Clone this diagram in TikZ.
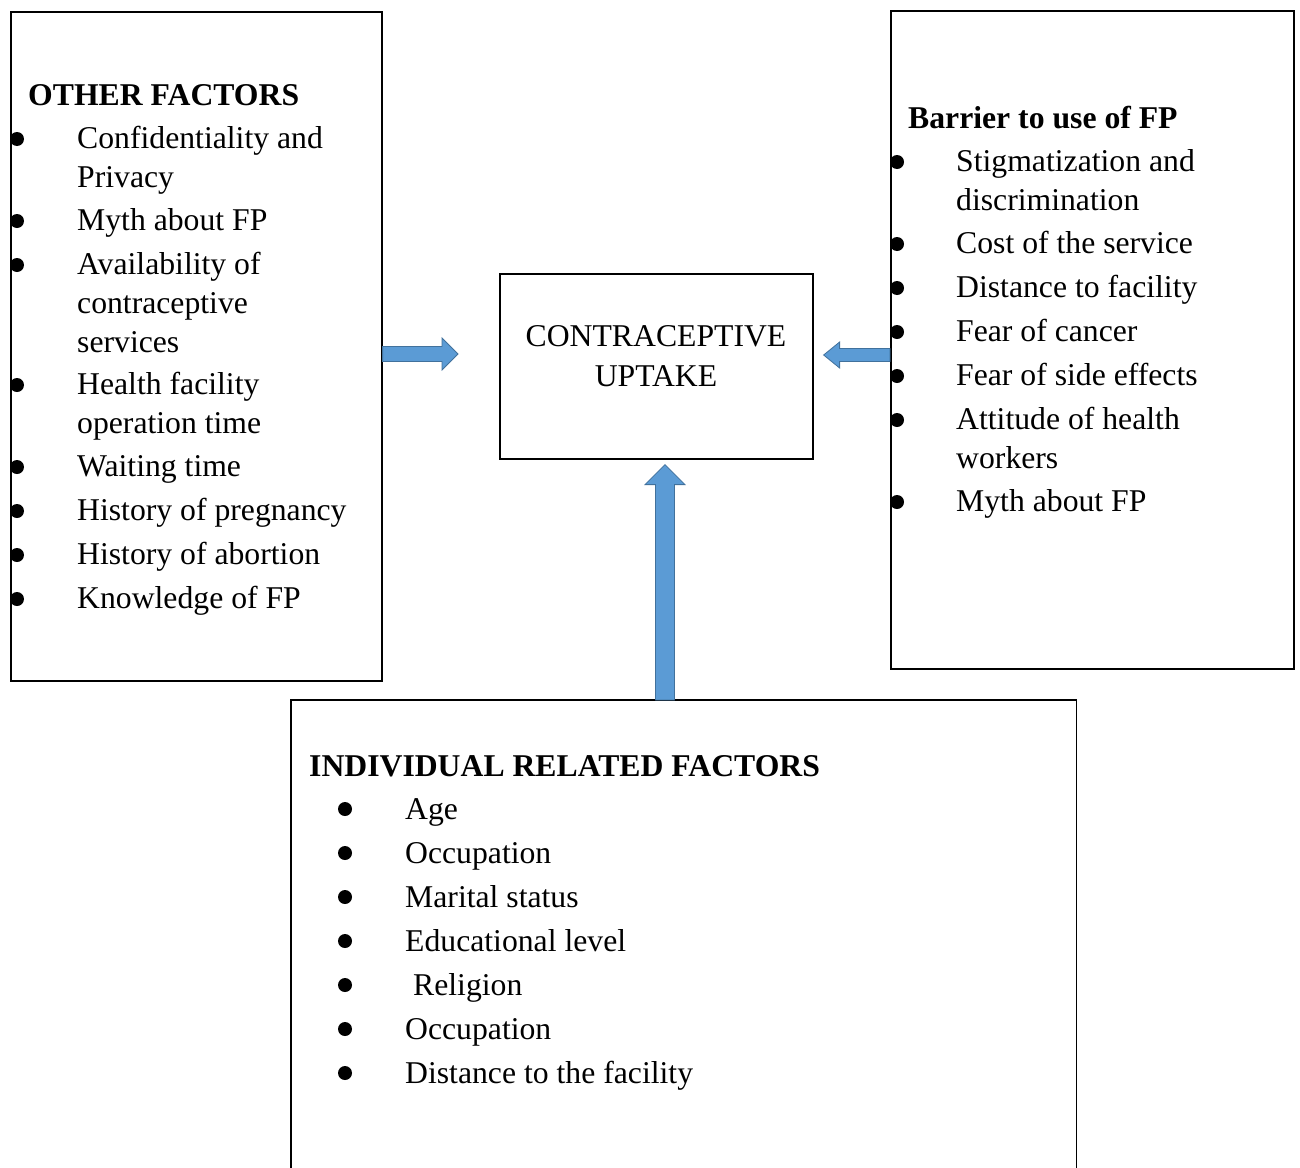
\documentclass[tikz,border=0pt]{standalone}
\usepackage{fontspec}
\setmainfont{Liberation Serif}
\usetikzlibrary{calc}
\definecolor{arrowfill}{HTML}{5B9BD5}
\definecolor{arrowline}{HTML}{41719C}
\begin{document}
\begin{tikzpicture}[x=1pt,y=-1pt,
  box/.style={draw=black, line width=1.6pt, inner sep=0pt, anchor=north west},
  txt/.style={anchor=base west, inner sep=0pt, yshift=-1.5pt, font=\fontsize{31.7}{39}\selectfont},
  hdr/.style={anchor=base west, inner sep=0pt, yshift=-1.5pt, font=\fontsize{31.7}{39}\selectfont\bfseries},
  ctxt/.style={anchor=base, inner sep=0pt, yshift=-1.5pt, font=\fontsize{31.7}{39}\selectfont},
  dot/.style={circle, fill=black, inner sep=0pt, minimum size=14pt},
  fat/.style={fill=arrowfill, draw=arrowline, line width=0.8pt, line join=miter}]
\useasboundingbox (0,0) rectangle (1300,1167);
\fill[white] (0,0) rectangle (1300,1167);

% boxes
\node[box, minimum width=371pt, minimum height=669pt] (other) at (10,11) {};
\node[box, minimum width=313pt, minimum height=185pt] (uptake) at (499,273) {};
\node[box, minimum width=403pt, minimum height=658pt] (barrier) at (890,10) {};
\node[box, draw=none, minimum width=784pt, minimum height=467pt] (indiv) at (291,700) {};
\draw[line width=1.6pt] (indiv.south west) -- (indiv.north west) -- (indiv.north east) -- (indiv.south east);

% arrows
\coordinate (a1s) at (other.east |- 0,354);
\coordinate (a1t) at ([xshift=-41pt]uptake.west |- 0,354);
\draw[fat] ($(a1s)+(0,-7.5)$) -- ($(a1t)+(-16,-7.5)$) -- ($(a1t)+(-16,-16)$) -- (a1t)
  -- ($(a1t)+(-16,16)$) -- ($(a1t)+(-16,7.5)$) -- ($(a1s)+(0,7.5)$) -- cycle;

\coordinate (a2s) at (barrier.west |- 0,355);
\coordinate (a2t) at ([xshift=10pt]uptake.east |- 0,355);
\draw[fat] ($(a2s)+(0,-6.5)$) -- ($(a2t)+(16,-6.5)$) -- ($(a2t)+(16,-13)$) -- (a2t)
  -- ($(a2t)+(16,13)$) -- ($(a2t)+(16,6.5)$) -- ($(a2s)+(0,6.5)$) -- cycle;

\coordinate (a3s) at ([xshift=374pt]indiv.north west);
\coordinate (a3t) at ([yshift=-5pt]uptake.south -| a3s);
\draw[fat] ($(a3s)+(-9.5,0)$) -- ($(a3t)+(-9.5,20)$) -- ($(a3t)+(-20,20)$) -- (a3t)
  -- ($(a3t)+(20,20)$) -- ($(a3t)+(9.5,20)$) -- ($(a3s)+(9.5,0)$) -- cycle;

% centre text
\node[ctxt] (c1) at (656,345) {CONTRACEPTIVE};
\node[ctxt] (c2) at (656,385) {UPTAKE};

% left box
\node[hdr] (oh) at (28,104) {OTHER FACTORS};
\node[txt] (o1) at (77,147) {Confidentiality and};
\node[txt] (o1b) at (77,186) {Privacy};
\node[txt] (o2) at (77,229) {Myth about FP};
\node[txt] (o3) at (77,273) {Availability of};
\node[txt] (o3b) at (77,312) {contraceptive};
\node[txt] (o3c) at (77,351) {services};
\node[txt] (o4) at (77,393) {Health facility};
\node[txt] (o4b) at (77,432) {operation time};
\node[txt] (o5) at (77,475) {Waiting time};
\node[txt] (o6) at (77,519) {History of pregnancy};
\node[txt] (o7) at (77,563) {History of abortion};
\node[txt] (o8) at (77,607) {Knowledge of FP};
\foreach \y [count=\i] in {139,221,265,385,467,511,555,599}
  \node[dot] (od\i) at (17,\y) {};

% right box
\node[hdr] (bh) at (908,127) {Barrier to use of FP};
\node[txt] (b1) at (956,170) {Stigmatization and};
\node[txt] (b1b) at (956,209) {discrimination};
\node[txt] (b2) at (956,252) {Cost of the service};
\node[txt] (b3) at (956,296) {Distance to facility};
\node[txt] (b4) at (956,340) {Fear of cancer};
\node[txt] (b5) at (956,384) {Fear of side effects};
\node[txt] (b6) at (956,428) {Attitude of health};
\node[txt] (b6b) at (956,467) {workers};
\node[txt] (b7) at (956,510) {Myth about FP};
\foreach \y [count=\i] in {162,244,288,332,376,420,502}
  \node[dot] (bd\i) at (897,\y) {};

% bottom box
\node[hdr] (ih) at (309,775) {INDIVIDUAL RELATED FACTORS};
\node[txt] (i1) at (405,818) {Age};
\node[txt] (i2) at (405,862) {Occupation};
\node[txt] (i3) at (405,906) {Marital status};
\node[txt] (i4) at (405,950) {Educational level};
\node[txt] (i5) at (413,994) {Religion};
\node[txt] (i6) at (405,1038) {Occupation};
\node[txt] (i7) at (405,1082) {Distance to the facility};
\foreach \y [count=\i] in {809,853,897,941,985,1029,1073}
  \node[dot] (id\i) at (345,\y) {};
\end{tikzpicture}
\end{document}
